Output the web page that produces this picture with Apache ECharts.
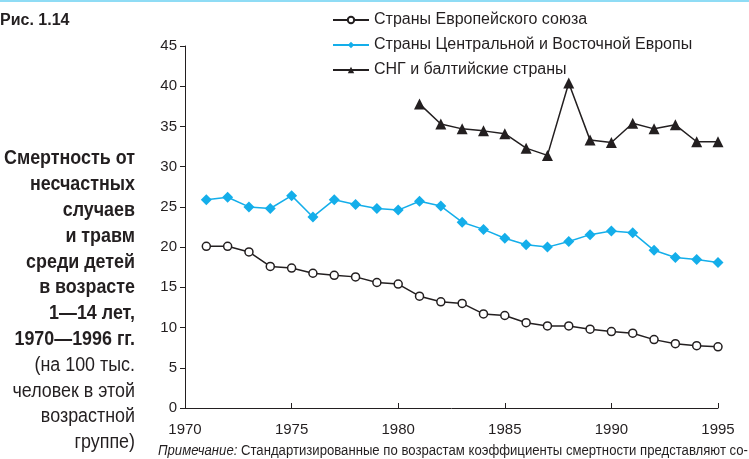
<!DOCTYPE html>
<html lang="ru">
<head>
<meta charset="UTF-8">
<title>Рис. 1.14</title>
<script src="https://cdn.jsdelivr.net/npm/echarts@6/dist/echarts.min.js"></script>
<style>
    html, body { margin: 0; padding: 0; background: #fff; }
    #main { width: 749px; height: 459px; }
</style>
</head>
<body>
<div id="main"></div>
<script>
    // годы и значения
    var yearsAll = [1971,1972,1973,1974,1975,1976,1977,1978,1979,1980,1981,1982,1983,
                    1984,1985,1986,1987,1988,1989,1990,1991,1992,1993,1994,1995];
    var euValues = [20.1,20.1,19.4,17.6,17.4,16.75,16.5,16.3,15.6,15.4,13.9,13.2,13.0,
                    11.7,11.5,10.6,10.2,10.2,9.8,9.5,9.3,8.5,8.0,7.75,7.6];
    var ceeValues = [25.9,26.2,25.0,24.8,26.4,23.75,25.9,25.3,24.8,24.6,25.7,25.1,23.1,
                     22.2,21.1,20.3,20.0,20.7,21.55,22.0,21.8,19.6,18.7,18.45,18.1];
    var cisYears = [1981,1982,1983,1984,1985,1986,1987,1988,1989,1990,1991,1992,1993,1994,1995];
    var cisValues = [37.8,35.3,34.7,34.45,34.1,32.3,31.4,40.4,33.3,33.0,35.4,34.7,35.2,33.1,33.1];
    var seriesNames = ['Страны Европейского союза', 'Страны Центральной и Восточной Европы', 'СНГ и балтийские страны'];

    var sideLines = ['Смертность от', 'несчастных', 'случаев', 'и травм', 'среди детей',
                     'в возрасте', '1—14 лет,', '1970—1996 гг.'];
    var sideLinesNormal = ['(на 100 тыс.', 'человек в этой', 'возрастной', 'группе)'];
    var noteItalic = 'Примечание:';
    var noteText = ' Стандартизированные по возрастам коэффициенты смертности представляют со-';

    function pairs(xs, ys) {
        return xs.map(function (x, i) { return [x, ys[i]]; });
    }

    var FONT = '"Liberation Sans", Arial, sans-serif';
    var INK = '#231f20';
    var CYAN = '#14aeea';

    // шрифт в оригинале узкий — подбираем сжатие по ширине
    var ctx = document.createElement('canvas').getContext('2d');
    function textW(font, s) { ctx.font = font; return ctx.measureText(s).width; }
    var sideSize = 20;
    var sideW = Math.max(textW('bold ' + sideSize + 'px "Liberation Sans"', 'Смертность от'),
                         textW(sideSize + 'px "Liberation Sans"', 'человек в этой'));
    var sideScale = 131 / sideW;
    var noteW = textW('italic 14px "Liberation Sans"', noteItalic) + textW('14px "Liberation Sans"', noteText);
    var noteScale = 590 / noteW;

    var sideText = sideLines.map(function (s) { return '{b|' + s + '}'; })
        .concat(sideLinesNormal.map(function (s) { return '{n|' + s + '}'; })).join('\n');

    var chart = echarts.init(document.getElementById('main'));
    var option = {
        animation: false,
        textStyle: { fontFamily: FONT, color: INK },
        grid: { left: 185, right: 31, top: 46, bottom: 51 },
        legend: {
            orient: 'vertical',
            left: 332,
            top: 12,
            padding: 0,
            itemWidth: 36,
            itemHeight: 8,
            itemGap: 9,
            textStyle: { fontFamily: FONT, fontSize: 16, color: INK },
            data: seriesNames
        },
        xAxis: {
            type: 'value',
            min: 1970,
            max: 1995,
            interval: 5,
            axisLine: { lineStyle: { color: INK, width: 1 } },
            axisTick: { inside: true, length: 5, lineStyle: { color: INK } },
            axisLabel: { fontFamily: FONT, fontSize: 15, color: INK, margin: 14,
                         formatter: function (v) { return String(v); } },
            splitLine: { show: false }
        },
        yAxis: {
            type: 'value',
            min: 0,
            max: 45,
            interval: 5,
            axisLine: { show: true, lineStyle: { color: INK, width: 1 } },
            axisTick: { show: true, length: 5, lineStyle: { color: INK } },
            axisLabel: { fontFamily: FONT, fontSize: 15, color: INK, margin: 8 },
            splitLine: { show: false }
        },
        graphic: [
            { type: 'rect', left: 0, top: 0, shape: { width: 749, height: 2 }, style: { fill: '#8fdcf5' } },
            { type: 'text', left: 0, top: 13, style: { text: 'Рис. 1.14', fontFamily: FONT, fontWeight: 'bold', fontSize: 16, fill: INK } },
            {
                type: 'text', x: 135, y: 146, scaleX: sideScale,
                style: {
                    x: 0, y: 0,
                    text: sideText,
                    align: 'right',
                    fill: INK,
                    rich: {
                        b: { fontFamily: FONT, fontWeight: 'bold', fontSize: sideSize, lineHeight: 25.8, align: 'right' },
                        n: { fontFamily: FONT, fontSize: sideSize, lineHeight: 25.8, align: 'right' }
                    }
                }
            },
            {
                type: 'text', x: 158, y: 444, scaleX: noteScale,
                style: {
                    x: 0, y: 0,
                    text: '{i|' + noteItalic + '}{n|' + noteText + '}',
                    rich: {
                        i: { fontFamily: FONT, fontStyle: 'italic', fontSize: 14, fill: INK },
                        n: { fontFamily: FONT, fontSize: 14, fill: INK }
                    }
                }
            }
        ],
        series: [
            {
                name: seriesNames[0],
                type: 'line',
                data: pairs(yearsAll, euValues),
                symbol: 'circle',
                symbolSize: 8,
                lineStyle: { color: INK, width: 1.5 },
                itemStyle: { color: '#fff', borderColor: INK, borderWidth: 1.5 },
                z: 3
            },
            {
                name: seriesNames[1],
                type: 'line',
                data: pairs(yearsAll, ceeValues),
                symbol: 'diamond',
                symbolSize: 11,
                lineStyle: { color: CYAN, width: 1.5 },
                itemStyle: { color: CYAN },
                z: 3
            },
            {
                name: seriesNames[2],
                type: 'line',
                data: pairs(cisYears, cisValues),
                symbol: 'triangle',
                symbolSize: 11,
                lineStyle: { color: INK, width: 1.5 },
                itemStyle: { color: INK },
                z: 3
            }
        ]
    };
    chart.setOption(option);
</script>
</body>
</html>
